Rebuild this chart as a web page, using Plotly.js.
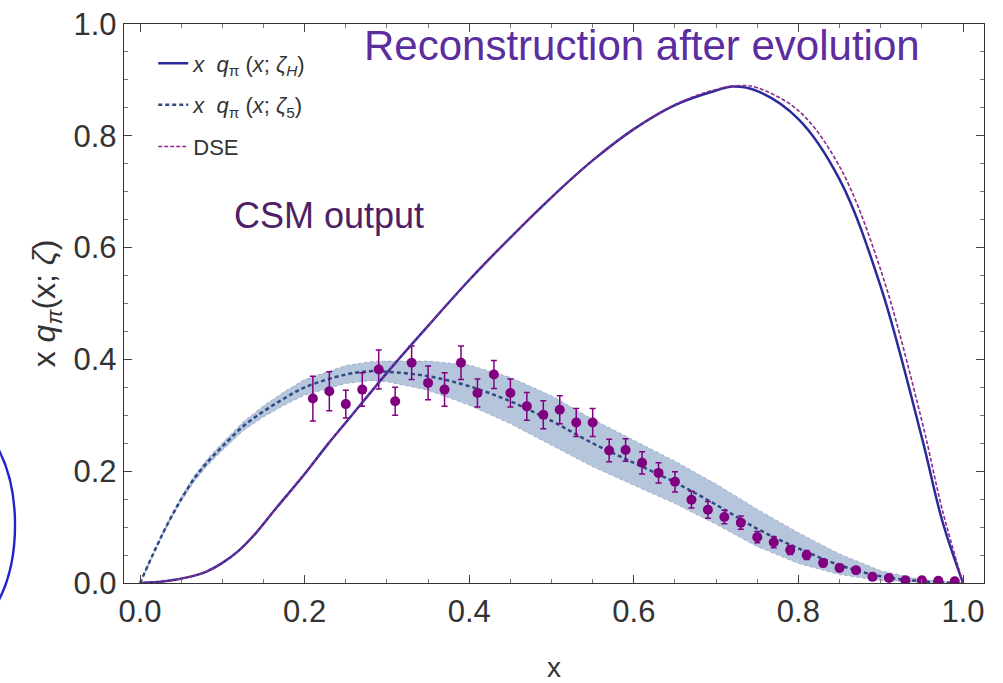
<!DOCTYPE html>
<html>
<head>
<meta charset="utf-8">
<script src="https://cdn.plot.ly/plotly-3.0.1.min.js"></script>
<style>html,body{margin:0;padding:0;background:#fff;}#chart{width:1003px;height:683px;}</style>
</head>
<body>
<div id="chart"></div>
<script>
// ζ_H curve (reconstruction after evolution)
const xH = [0, 0.03, 0.06, 0.08, 0.1, 0.12, 0.14, 0.166, 0.2, 0.228, 0.25, 0.3, 0.35, 0.4, 0.45, 0.5, 0.55, 0.6, 0.65, 0.7, 0.72, 0.75, 0.8, 0.85, 0.9, 0.95, 0.975, 1.0];
const yH = [0, 0.003, 0.011, 0.02, 0.036, 0.058, 0.088, 0.135, 0.195, 0.248, 0.287, 0.376, 0.46, 0.542, 0.618, 0.69, 0.756, 0.812, 0.855, 0.881, 0.888, 0.88, 0.83, 0.722, 0.53, 0.26, 0.11, 0];
// DSE curve
const xDSE = [0, 0.03, 0.06, 0.08, 0.1, 0.12, 0.14, 0.166, 0.2, 0.228, 0.25, 0.3, 0.35, 0.4, 0.45, 0.5, 0.55, 0.6, 0.65, 0.7, 0.73, 0.75, 0.8, 0.85, 0.9, 0.95, 0.975, 1.0];
const yDSE = [0, 0.003, 0.011, 0.02, 0.036, 0.058, 0.088, 0.135, 0.195, 0.248, 0.287, 0.376, 0.46, 0.542, 0.618, 0.69, 0.756, 0.812, 0.856, 0.883, 0.89, 0.886, 0.845, 0.745, 0.56, 0.29, 0.13, 0];
// ζ_5 curve (CSM output) with band
const x5 = [0, 0.02, 0.035, 0.05, 0.065, 0.08, 0.1, 0.125, 0.15, 0.175, 0.2, 0.25, 0.28, 0.3, 0.35, 0.4, 0.45, 0.5, 0.55, 0.6, 0.65, 0.7, 0.75, 0.8, 0.85, 0.9, 0.95, 1.0];
const y5 = [0, 0.065, 0.11, 0.15, 0.185, 0.213, 0.244, 0.28, 0.307, 0.33, 0.35, 0.373, 0.379, 0.378, 0.37, 0.352, 0.325, 0.29, 0.25, 0.215, 0.18, 0.14, 0.097, 0.062, 0.032, 0.012, 0.003, 0];
const bandUp = [0, 0.067, 0.113, 0.154, 0.19, 0.219, 0.251, 0.288, 0.317, 0.342, 0.364, 0.389, 0.396, 0.397, 0.397, 0.39, 0.368, 0.335, 0.293, 0.255, 0.218, 0.177, 0.132, 0.09, 0.052, 0.022, 0.006, 0];
const bandLo = [0, 0.063, 0.107, 0.146, 0.18, 0.207, 0.237, 0.272, 0.297, 0.318, 0.336, 0.357, 0.362, 0.36, 0.345, 0.318, 0.285, 0.247, 0.208, 0.175, 0.142, 0.105, 0.065, 0.035, 0.015, 0.004, 0.001, 0];
// data points
const xData = [0.21,0.23,0.25,0.27,0.29,0.31,0.33,0.35,0.37,0.39,0.41,0.43,0.45,0.47,0.49,0.51,0.53,0.55,0.57,0.59,0.61,0.63,0.65,0.67,0.69,0.71,0.73,0.75,0.77,0.79,0.81,0.83,0.85,0.87,0.89,0.91,0.93,0.95,0.97,0.99];
const yData = [0.33,0.343,0.32,0.346,0.382,0.325,0.394,0.358,0.346,0.394,0.34,0.373,0.34,0.316,0.301,0.31,0.287,0.287,0.237,0.238,0.215,0.197,0.181,0.149,0.131,0.118,0.108,0.082,0.073,0.059,0.05,0.036,0.027,0.023,0.011,0.009,0.005,0.005,0.004,0.003];
const yErr = [0.04,0.035,0.025,0.03,0.035,0.025,0.03,0.03,0.03,0.03,0.025,0.025,0.025,0.025,0.025,0.025,0.025,0.025,0.02,0.02,0.02,0.018,0.018,0.015,0.015,0.012,0.012,0.01,0.01,0.008,0.008,0.007,0.006,0.006,0.005,0.005,0.004,0.004,0.003,0.003];

const legH = '<i>x</i>&nbsp;&nbsp;<i>q</i><sub>π</sub>&nbsp;(<i>x</i>;&nbsp;<i>ζ</i><sub><i>H</i></sub>)';
const leg5 = '<i>x</i>&nbsp;&nbsp;<i>q</i><sub>π</sub>&nbsp;(<i>x</i>;&nbsp;<i>ζ</i><sub>5</sub>)';

const traces = [
  {x: x5, y: bandUp, mode: 'lines', line: {width: 0.6, color: '#8090a8', dash: 'dot'}, showlegend: false, hoverinfo: 'skip'},
  {x: x5, y: bandLo, mode: 'lines', fill: 'tonexty', fillcolor: 'rgba(150,172,205,0.7)', line: {width: 0.6, color: '#8090a8', dash: 'dot'}, showlegend: false, hoverinfo: 'skip'},
  {x: x5, y: y5, mode: 'lines', name: leg5, legendrank: 2, legendgroup: 'b', line: {color: '#2f4a80', width: 2.5, dash: '4px,3px', shape: 'spline'}},
  {x: xData, y: yData, mode: 'markers', showlegend: false,
   marker: {color: '#800080', size: 10},
   error_y: {type: 'data', array: yErr, visible: true, color: '#800080', thickness: 1.5, width: 3}},
  {x: xH, y: yH, mode: 'lines', name: legH, legendrank: 1, legendgroup: 'a', line: {color: '#2a2a9c', width: 2.5, shape: 'spline'}},
  {x: xDSE, y: yDSE, mode: 'lines', name: 'DSE', legendrank: 3, legendgroup: 'c', line: {color: '#8a2a8a', width: 1.6, dash: '4px,2px', shape: 'spline'}}
];

const layout = {
  width: 1003, height: 683,
  margin: {l: 124, r: 19, t: 24, b: 100},
  paper_bgcolor: '#fff', plot_bgcolor: '#fff',
  font: {family: 'Liberation Sans, Arial, sans-serif', color: '#333'},
  showlegend: true,
  legend: {x: 0.034, y: 0.967, xanchor: 'left', yanchor: 'top', bgcolor: 'rgba(0,0,0,0)', font: {size: 22, color: '#333'}, itemwidth: 30, tracegroupgap: 10},
  xaxis: {
    range: [-0.0195, 1.0255], tickvals: [0, 0.2, 0.4, 0.6, 0.8, 1.0], ticktext: ['0.0','0.2','0.4','0.6','0.8','1.0'],
    ticks: 'inside', ticklen: 8, tickcolor: '#444', showline: true, linecolor: '#333', linewidth: 1.3, mirror: 'ticks',
    minor: {ticks: 'inside', ticklen: 4, dtick: 0.05, tickcolor: '#777'},
    showgrid: false, zeroline: false, tickfont: {size: 31, color: '#333'},
    title: {text: 'x', font: {size: 28, color: '#333'}, standoff: 32}
  },
  yaxis: {
    range: [0, 1.0], tickvals: [0, 0.2, 0.4, 0.6, 0.8, 1.0], ticktext: ['0.0','0.2','0.4','0.6','0.8','1.0'],
    ticks: 'inside', ticklen: 8, tickcolor: '#444', showline: true, linecolor: '#333', linewidth: 1.3, mirror: 'ticks',
    minor: {ticks: 'inside', ticklen: 4, dtick: 0.05, tickcolor: '#777'},
    showgrid: false, zeroline: false, tickfont: {size: 31, color: '#333'},
    title: {text: 'x <i>q</i><sub><i>π</i></sub>(x; <i>ζ</i>)', font: {size: 32, color: '#333'}, standoff: 8}
  },
  annotations: [
    {xref: 'paper', yref: 'paper', x: 0.928, y: 0.962, xanchor: 'right', yanchor: 'middle', text: 'Reconstruction after evolution', showarrow: false, font: {size: 42, color: '#5b2d9e'}},
    {xref: 'paper', yref: 'paper', x: 0.125, y: 0.658, xanchor: 'left', yanchor: 'middle', text: 'CSM output', showarrow: false, font: {size: 36, color: '#4e1f66'}}
  ],
  shapes: [
    {type: 'circle', xref: 'paper', yref: 'paper', x0: -0.2663, x1: -0.1267, y0: -0.093, y1: 0.3005, line: {color: '#2222cc', width: 2.4}}
  ]
};

Plotly.newPlot('chart', traces, layout, {displayModeBar: false, staticPlot: true});
</script>
</body>
</html>
